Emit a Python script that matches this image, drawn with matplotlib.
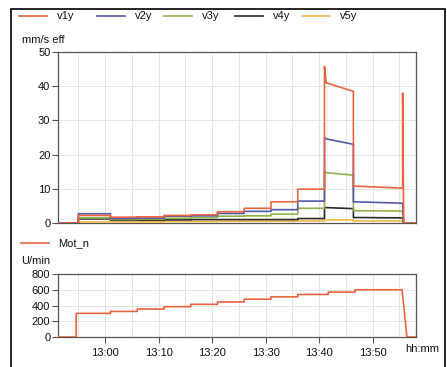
import numpy as np
import matplotlib.pyplot as plt
from matplotlib.lines import Line2D
from matplotlib.patches import Rectangle
from matplotlib.ticker import FuncFormatter, MultipleLocator

# time in minutes after 12:00
seg_edges = [51.2, 55.0, 61.0, 66.0, 71.0, 76.0, 81.0, 86.0, 91.0, 96.0,
             101.0, 101.3, 106.4, 115.6, 115.8, 118.1]

# per segment: value at start, value at end
v1y_start = [0, 2.2, 1.7, 1.8, 2.2, 2.4, 3.3, 4.3, 6.2, 9.9, 45.8, 41.0, 10.8, 38.0, 0]
v1y_end   = [0, 2.2, 1.7, 1.8, 2.2, 2.4, 3.3, 4.3, 6.2, 9.9, 41.3, 38.5, 10.2, 0.0, 0]
v2y_start = [0, 2.7, 1.3, 1.4, 2.0, 2.1, 2.8, 3.4, 3.9, 6.4, 25.0, 24.6, 6.2, 5.8, 0]
v2y_end   = [0, 2.7, 1.3, 1.4, 2.0, 2.1, 2.8, 3.4, 3.9, 6.4, 24.7, 23.0, 5.8, 0.0, 0]
v3y_start = [0, 1.5, 1.0, 1.1, 1.4, 1.6, 2.0, 2.1, 2.6, 4.3, 15.0, 14.7, 3.6, 3.5, 0]
v3y_end   = [0, 1.5, 1.0, 1.1, 1.4, 1.6, 2.0, 2.1, 2.6, 4.3, 14.8, 14.0, 3.5, 0.0, 0]
v4y_start = [0, 1.2, 0.8, 0.8, 0.9, 1.0, 1.0, 1.0, 1.0, 1.3, 4.6, 4.5, 1.6, 1.5, 0]
v4y_end   = [0, 1.2, 0.8, 0.8, 0.9, 1.0, 1.0, 1.0, 1.0, 1.3, 4.5, 4.2, 1.5, 0.0, 0]
v5y_start = [0, 0.3, 0.3, 0.3, 0.4, 0.4, 0.5, 0.5, 0.5, 0.6, 0.9, 0.9, 0.6, 0.6, 0]
v5y_end   = [0, 0.3, 0.3, 0.3, 0.4, 0.4, 0.5, 0.5, 0.5, 0.6, 0.9, 0.9, 0.6, 0.0, 0]

mot_t = [51.2, 54.6, 61.0, 66.0, 71.0, 76.0, 81.0, 86.0, 91.0, 96.0, 101.7, 106.7, 115.5, 116.4, 118.1]
mot_v = [0, 300, 325, 355, 385, 415, 445, 480, 510, 540, 570, 600, 600, 0, 0]

names = ['v1y', 'v2y', 'v3y', 'v4y', 'v5y']
colors = ['#e8653f', '#5257a6', '#92b34c', '#2b2b2b', '#f3b945']
mot_color = '#e8653f'


def seg_path(edges, starts, ends):
    xs, ys = [], []
    for i in range(len(starts)):
        xs += [edges[i], edges[i + 1]]
        ys += [starts[i], ends[i]]
    return xs, ys


def hhmm(m, pos=None):
    return '%d:%02d' % (12 + int(m // 60), int(round(m % 60)))


plt.rcParams['font.family'] = ['Liberation Sans', 'DejaVu Sans']
plt.rcParams['font.size'] = 8
txt = '#111111'
spine = '#555555'
grid = '#e4e4e4'

fig = plt.figure(figsize=(4.47, 3.67), dpi=100)
W, H = 447.0, 367.0

ax1 = fig.add_axes([58 / W, 1 - 223 / H, 358 / W, 171 / H])
ax2 = fig.add_axes([58 / W, 1 - 337 / H, 358 / W, 63 / H])

series = [(v1y_start, v1y_end), (v2y_start, v2y_end), (v3y_start, v3y_end),
          (v4y_start, v4y_end), (v5y_start, v5y_end)]
for k in range(len(series) - 1, -1, -1):
    xs, ys = seg_path(seg_edges, *series[k])
    ax1.plot(xs, ys, color=colors[k], lw=1.2, zorder=3 + (5 - k) * 0.1)

# Mot_n as steps, last two points ramp down
sx, sy = [], []
for i in range(len(mot_t) - 1):
    sx += [mot_t[i], mot_t[i + 1]]
    sy += [mot_v[i], mot_v[i] if i < len(mot_t) - 3 else mot_v[i + 1]]
ax2.plot(sx, sy, color=mot_color, lw=1.2, zorder=3)

for ax in (ax1, ax2):
    ax.set_xlim(51.2, 118.1)
    ax.xaxis.set_major_locator(MultipleLocator(10))
    ax.xaxis.set_minor_locator(MultipleLocator(5))
    ax.grid(True, which='both', axis='x', color=grid, lw=0.7)
    ax.grid(True, which='major', axis='y', color=grid, lw=0.7)
    ax.set_axisbelow(True)
    for s in ax.spines.values():
        s.set_color(spine)
        s.set_linewidth(0.9)
    ax.tick_params(axis='both', which='major', direction='out', length=4,
                   width=0.8, color=spine, labelcolor=txt, labelsize=8, pad=1.5)
    ax.tick_params(axis='x', which='minor', length=0)

ax1.set_ylim(0, 50)
ax1.yaxis.set_major_locator(MultipleLocator(10))
ax1.tick_params(axis='x', which='major', length=0, labelbottom=False)

ax2.set_ylim(0, 800)
ax2.yaxis.set_major_locator(MultipleLocator(200))
ax2.set_xticks([60, 70, 80, 90, 100, 110])
ax2.xaxis.set_major_formatter(FuncFormatter(hhmm))
ax2.tick_params(axis='x', pad=4)

# legends drawn by hand
leg_x = [19, 97, 164, 235, 302]
for k, name in enumerate(names):
    x0 = leg_x[k]
    fig.add_artist(Line2D([x0 / W, (x0 + 28) / W], [1 - 16 / H] * 2,
                          color=colors[k], lw=1.2, transform=fig.transFigure))
    fig.text((x0 + 38) / W, 1 - 16 / H, name, color=txt, va='center', ha='left')
fig.text(22 / W, 1 - 40 / H, 'mm/s eff', color=txt, va='center', ha='left')

fig.add_artist(Line2D([21 / W, 49 / W], [1 - 243 / H] * 2,
                      color=mot_color, lw=1.2, transform=fig.transFigure))
fig.text(58 / W, 1 - 243 / H, 'Mot_n', color=txt, va='center', ha='left')
fig.text(21 / W, 1 - 261 / H, 'U/min', color=txt, va='center', ha='left')
fig.text(422 / W, 1 - 349 / H, 'hh:mm', color=txt, va='center', ha='center')

fig.add_artist(Rectangle((11 / W, -0.05), 434 / W, 1.05 - 9 / H, fill=False,
                         edgecolor='black', lw=1.2, transform=fig.transFigure))

fig.savefig('out.png', dpi=100)
plt.close(fig)
